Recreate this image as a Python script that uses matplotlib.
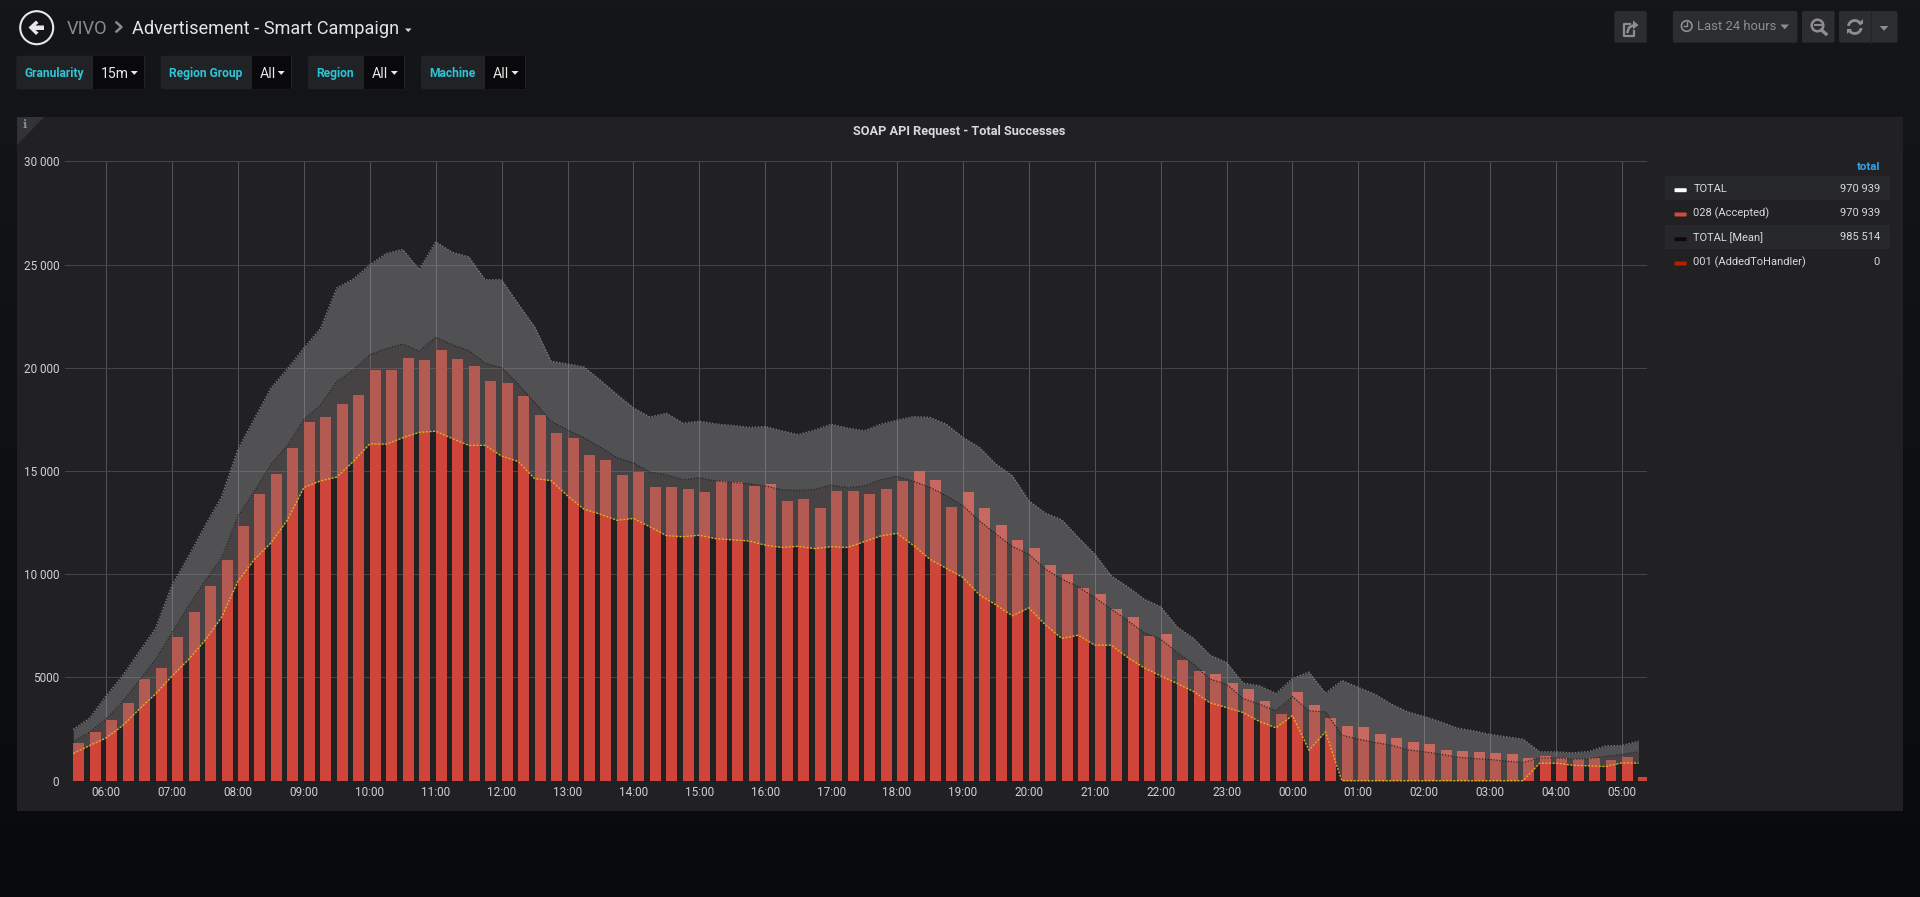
import numpy as np
import pandas as pd
import matplotlib
matplotlib.use('Agg')
import matplotlib.pyplot as plt
import matplotlib.dates as mdates
from matplotlib.patches import Circle, Polygon, Rectangle, FancyBboxPatch, Arc

plt.rcParams['font.family'] = ['Roboto', 'DejaVu Sans']

W, H = 1920, 897

# one value every 15 minutes, starting 05:30
bar_values = [1833, 2352, 2945, 3741, 4945, 5445, 6963, 8149, 9427, 10705, 12316, 13871,
              14872, 16094, 17372, 17631, 18261, 18687, 19891, 19891, 20465, 20391, 20872, 20446,
              20094, 19372, 19242, 18612, 17723, 16835, 16575, 15797, 15538, 14797, 14964, 14205,
              14223, 14131, 13964, 14538, 14483, 14297, 14371, 13538, 13649, 13223, 14020, 14020,
              13890, 14149, 14501, 14983, 14575, 13260, 13994, 13219, 12379, 11652, 11281, 10457,
              9989, 9343, 9020, 8309, 7922, 7017, 7114, 5822, 5321, 5192, 4756, 4433,
              3836, 3254, 4304, 3674, 3044, 2657, 2624, 2285, 2075, 1881, 1785, 1478,
              1445, 1397, 1365, 1284, 1090, 1187, 1122, 1058, 1090, 1009, 1171, 170]
band_lower = [1315, 1704, 2074, 2667, 3463, 4204, 5074, 5871, 6797, 7908, 9667, 10723,
              11519, 12631, 14205, 14520, 14705, 15464, 16316, 16298, 16612, 16872, 16927, 16575,
              16242, 16242, 15723, 15464, 14631, 14538, 13797, 13149, 12908, 12612, 12705, 12297,
              11871, 11816, 11890, 11723, 11668, 11612, 11408, 11297, 11353, 11242, 11334, 11297,
              11575, 11853, 11982, 11390, 10723, 10279, 9843, 9004, 8519, 7986, 8374, 7550,
              6888, 7050, 6565, 6565, 5967, 5467, 5079, 4708, 4320, 3771, 3545, 3303,
              2867, 2560, 3157, 1478, 2366, 0, 0, 0, 0, 0, 0, 0,
              0, 0, 0, 0, 0, 848, 848, 751, 719, 686, 864, 848]
band_mean = [1889, 2352, 3000, 3834, 4852, 5871, 7167, 8464, 9667, 10779, 12816, 14020,
             15316, 16242, 17501, 18187, 19335, 19891, 20631, 20928, 21150, 20798, 21483, 21113,
             20835, 20224, 20001, 19205, 18316, 17409, 16983, 16612, 16149, 15649, 15390, 14946,
             14816, 14575, 14668, 14520, 14446, 14390, 14279, 14094, 14057, 14112, 14316, 14186,
             14279, 14575, 14742, 14501, 14205, 13797, 13316, 12589, 11943, 11345, 10974, 10247,
             9763, 9391, 8874, 8309, 7744, 7179, 6856, 6210, 5644, 4918, 4675, 3981,
             3706, 3383, 4078, 3383, 3335, 2204, 2011, 1849, 1720, 1494, 1397, 1284,
             1139, 1074, 1026, 945, 880, 1106, 1106, 1042, 1058, 1187, 1268, 1397]
band_upper = [2482, 3037, 4111, 5093, 6241, 7389, 9482, 10871, 12353, 13742, 16057, 17538,
              19020, 19946, 20965, 21891, 23872, 24298, 24983, 25539, 25724, 24761, 26095, 25595,
              25372, 24261, 24261, 23094, 21983, 20316, 20187, 20039, 19390, 18705, 18057, 17613,
              17798, 17316, 17409, 17279, 17205, 17112, 17150, 16946, 16761, 16983, 17261, 17075,
              16946, 17261, 17464, 17631, 17594, 17261, 16626, 16142, 15334, 14769, 13558, 12960,
              12637, 11781, 10974, 9924, 9391, 8794, 8422, 7453, 6888, 6080, 5725, 4724,
              4595, 4223, 4950, 5257, 4239, 4853, 4514, 4191, 3706, 3335, 3109, 2850,
              2544, 2414, 2237, 2124, 2011, 1397, 1397, 1349, 1413, 1688, 1704, 1914]

y_ticks = [0, 5000, 10000, 15000, 20000, 25000, 30000]
y_labels = ['0', '5000', '10 000', '15 000', '20 000', '25 000', '30 000']
hour_labels = ['06:00', '07:00', '08:00', '09:00', '10:00', '11:00', '12:00', '13:00',
               '14:00', '15:00', '16:00', '17:00', '18:00', '19:00', '20:00', '21:00',
               '22:00', '23:00', '00:00', '01:00', '02:00', '03:00', '04:00', '05:00']

legend_names = ['TOTAL', '028 (Accepted)', 'TOTAL [Mean]', '001 (AddedToHandler)']
legend_totals = ['970 939', '970 939', '985 514', '0']
legend_colors = ['#ffffff', '#d44a3a', '#1a0505', '#bf1b00']

times = pd.date_range('2018-01-01 05:30', periods=len(bar_values), freq='15min')
hours = pd.date_range('2018-01-01 06:00', periods=len(hour_labels), freq='60min')
t = mdates.date2num(times)

TEXT = '#d8d9da'
GREY = '#8e8e8e'
CYAN = '#2ec5d6'

fig = plt.figure(figsize=(W / 100, H / 100), dpi=100)

# page and panel chrome, in pixel coordinates
bg = fig.add_axes([0, 0, 1, 1], zorder=0)
bg.set_xlim(0, W)
bg.set_ylim(H, 0)
bg.axis('off')
grad = np.linspace(0, 1, 256)[:, None, None]
top = np.array([21, 22, 25]) / 255
bottom = np.array([9, 10, 12]) / 255
bg.imshow(top + (bottom - top) * grad, extent=[0, W, H, 0], aspect='auto', zorder=0)
bg.set_xlim(0, W)
bg.set_ylim(H, 0)


def box(x0, y0, x1, y1, color, radius=2.0):
    bg.add_patch(FancyBboxPatch((x0 + radius, y0 + radius), x1 - x0 - 2 * radius, y1 - y0 - 2 * radius,
                                boxstyle='round,pad=%f' % radius, fc=color, ec='none', zorder=1))


def caret(x0, x1, y, color):
    bg.add_patch(Polygon([(x0, y), (x1, y), ((x0 + x1) / 2, y + (x1 - x0) * 0.55)], fc=color, ec='none', zorder=3))


def label(x, y, s, size, color=TEXT, ha='left', weight='normal'):
    bg.text(x, y, s, fontsize=size * 0.72, color=color, ha=ha, va='center', weight=weight, zorder=4)


bg.add_patch(Rectangle((17, 117), 1886, 694, fc='#212124', ec='none', zorder=1))
bg.add_patch(Polygon([(17, 117), (44, 117), (17, 145)], fc='#323338', ec='none', zorder=2))
bg.text(24.5, 125, 'i', fontsize=8, color=GREY, ha='center', va='center', family='DejaVu Serif', weight='bold', zorder=3)

# header
bg.add_patch(Circle((36.7, 27.7), 16.5, fc='none', ec='#e8e8e8', lw=1.5, zorder=3))
bg.add_patch(Polygon([(28.5, 27.5), (36, 20.5), (38.5, 23), (35.5, 25.5), (44, 25.5), (44, 30), (35.5, 30), (38.5, 32.5), (36, 35)],
                     fc='#e8e8e8', ec='none', zorder=3))
label(66.5, 28.5, 'VIVO', 18.3, color='#8a8a8a')
bg.plot([116.5, 121.5, 116.5], [22.5, 27, 31.5], color='#8a8a8a', lw=1.8, zorder=3)
label(132, 28.5, 'Advertisement - Smart Campaign', 18.1, color='#e3e4e5')
caret(405, 411.5, 28.5, TEXT)

# template variables: name, left, split, right
var_names = ['Granularity', 'Region Group', 'Region', 'Machine']
var_values = ['15m', 'All', 'All', 'All']
var_left = [16.3, 160.8, 308, 421]
var_split = [93, 251.8, 363.7, 484.5]
var_right = [145.3, 292.2, 405.3, 526]
for name, value, x0, xs, x1 in zip(var_names, var_values, var_left, var_split, var_right):
    box(x0, 55.7, x1, 89.3, '#212226')
    bg.add_patch(Rectangle((xs, 56), x1 - xs - 1, 33, fc='#09090b', ec='none', zorder=2))
    label(x0 + 8.5, 73.2, name, 12, color=CYAN, weight='bold')
    label(xs + 8, 74, value, 14, color='#e8e8e8')
    caret(x1 - 14.5, x1 - 7.5, 71, '#e8e8e8')

# top right buttons
BTN = '#2c2d30'
box(1614.3, 11, 1646.8, 42.7, BTN)
box(1672.9, 11, 1797.4, 42.7, BTN)
box(1802, 11, 1834.6, 42.7, BTN)
box(1839, 11, 1897.5, 42.7, BTN)
bg.plot([1870.6, 1870.6], [11, 42.7], color='#232427', lw=1, zorder=2)
bg.plot([1634, 1634, 1624, 1624, 1630], [31, 36, 36, 24, 24], color=GREY, lw=1.6, zorder=3)
bg.plot([1627.5, 1629, 1634], [32, 27.5, 25], color=GREY, lw=1.8, zorder=3)
bg.add_patch(Polygon([(1633, 20.5), (1638.5, 25), (1633, 29.5)], fc=GREY, ec='none', zorder=3))
bg.add_patch(Circle((1686.7, 26), 5.3, fc='none', ec=GREY, lw=1.2, zorder=3))
bg.plot([1686.7, 1686.7, 1684], [22.5, 26.5, 26.5], color=GREY, lw=1, zorder=3)
label(1696.6, 27, 'Last 24 hours', 13, color=GREY)
caret(1780.4, 1789, 24.5, GREY)
bg.add_patch(Circle((1817.5, 25.5), 5.8, fc='none', ec=GREY, lw=1.8, zorder=3))
bg.plot([1821.5, 1826], [30, 34], color=GREY, lw=2.4, zorder=3)
bg.plot([1814.5, 1820.5], [25.5, 25.5], color=GREY, lw=1.4, zorder=3)
bg.add_patch(Arc((1854.8, 27), 13, 13, theta1=190, theta2=340, color=GREY, lw=2, zorder=3))
bg.add_patch(Arc((1854.8, 27), 13, 13, theta1=10, theta2=160, color=GREY, lw=2, zorder=3))
bg.add_patch(Polygon([(1857.5, 24.5), (1862.5, 24.5), (1862.5, 19.5)], fc=GREY, ec='none', zorder=3))
bg.add_patch(Polygon([(1852, 29.5), (1847, 29.5), (1847, 34.5)], fc=GREY, ec='none', zorder=3))
caret(1879.7, 1888.4, 26, GREY)

bg.text(959, 131, 'SOAP API Request - Total Successes', fontsize=12.7 * 0.72, color=TEXT, ha='center', va='center',
        weight='bold', zorder=4)

# legend
label(1880, 166.5, 'total', 11.5, color='#33a2e5', ha='right', weight='bold')
row_y = [188.5, 212.8, 237.5, 261.8]
for i, (name, value, col) in enumerate(zip(legend_names, legend_totals, legend_colors)):
    if i % 2 == 0:
        bg.add_patch(Rectangle((1665, row_y[i] - 12), 224.6, 24, fc='#27282b', ec='none', zorder=2))
    box(1674.5, row_y[i] - 0.3, 1686.7, row_y[i] + 3.7, col, radius=1)
    bg.patches[-1].set_zorder(3)
    label(1693.4, row_y[i], name, 11.1)
    label(1880, row_y[i], value, 11.1, ha='right')

# chart
ax = fig.add_axes([65 / W, 1 - 780.7 / H, (1646.7 - 65) / W, (780.7 - 161.3) / H], zorder=1)
ax.patch.set_alpha(0)
for s in ax.spines.values():
    s.set_visible(False)
ax.set_axisbelow(True)
ax.grid(True, axis='y', color='#434446', lw=0.75)
ax.grid(True, axis='x', color='#525356', lw=0.75)

ax.bar(t, bar_values, width=10 / 1440, align='edge', color='#cf453a', zorder=2)
ax.fill_between(t, band_mean, band_upper, color=(183 / 255, 180 / 255, 180 / 255), alpha=0.32, lw=0, zorder=3)
ax.fill_between(t, band_lower, band_mean, color=(135 / 255, 125 / 255, 125 / 255), alpha=0.38, lw=0, zorder=3)
ax.plot(t, band_upper, color='#7b797b', lw=1.0, ls=(0, (1, 1.2)), zorder=4)
ax.plot(t, band_mean, color='#262324', lw=0.9, ls=(0, (1, 1.3)), zorder=4)
ax.plot(t, band_lower, color='#e5b416', lw=0.95, ls=(0, (1.5, 1.2)), zorder=4, clip_on=False)

ax.set_xlim(t[0] - 7.5 / 1440, t[0] - 7.5 / 1440 + 1)
ax.set_ylim(0, 30000)
ax.set_yticks(y_ticks)
ax.set_yticklabels(y_labels, va='center_baseline')
ax.set_xticks(mdates.date2num(hours))
ax.set_xticklabels(hour_labels)
ax.tick_params(axis='both', length=0, labelsize=11.7 * 0.72, labelcolor='#cfd0d1')
ax.tick_params(axis='y', pad=4.2)
ax.tick_params(axis='x', pad=3.5)

fig.savefig('out.png', dpi=100)
